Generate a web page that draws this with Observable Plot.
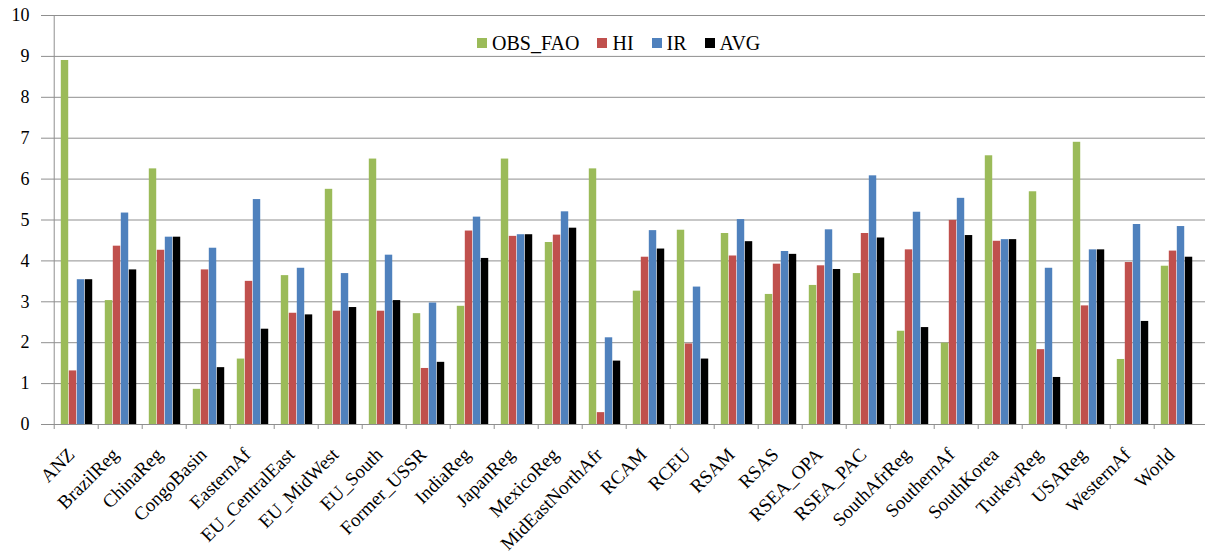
<!DOCTYPE html>
<html>
<head>
<meta charset="utf-8">
<script src="https://cdn.jsdelivr.net/npm/d3@7"></script>
<script src="https://cdn.jsdelivr.net/npm/@observablehq/plot@0.6"></script>
<style>
  html, body { margin: 0; padding: 0; background: #fff; }
  #wrap { position: relative; width: 1205px; height: 556px; font-family: "Liberation Serif", "Times New Roman", serif; }
  #wrap svg text { font-family: "Liberation Serif", "Times New Roman", serif; }
  #legend { position: absolute; top: 31px; left: 477px; display: flex; align-items: center; font-size: 20px; line-height: 24px; color: #000; font-family: "Liberation Serif", "Times New Roman", serif; }
  #legend .item { display: flex; align-items: center; margin-right: 18px; }
  #legend .sw { width: 10px; height: 10px; margin-right: 5px; }
</style>
</head>
<body>
<div id="wrap"><div id="legend"></div></div>
<script>
const regions = ["ANZ","BrazilReg","ChinaReg","CongoBasin","EasternAf","EU_CentralEast","EU_MidWest","EU_South","Former_USSR","IndiaReg","JapanReg","MexicoReg","MidEastNorthAfr","RCAM","RCEU","RSAM","RSAS","RSEA_OPA","RSEA_PAC","SouthAfrReg","SouthernAf","SouthKorea","TurkeyReg","USAReg","WesternAf","World"];
const obsFao = [8.90,3.03,6.25,0.86,1.60,3.64,5.75,6.49,2.71,2.89,6.49,4.45,6.25,3.26,4.75,4.67,3.18,3.40,3.69,2.28,1.99,6.57,5.69,6.90,1.59,3.87];
const hi     = [1.31,4.36,4.26,3.78,3.50,2.72,2.77,2.77,1.37,4.73,4.60,4.63,0.29,4.09,1.97,4.12,3.92,3.88,4.67,4.27,4.99,4.48,1.83,2.90,3.96,4.24];
const ir     = [3.54,5.17,4.58,4.31,5.50,3.82,3.69,4.14,2.97,5.07,4.64,5.20,2.12,4.74,3.36,5.01,4.23,4.76,6.08,5.19,5.53,4.52,3.82,4.27,4.89,4.84];
const avg    = [3.54,3.78,4.58,1.39,2.33,2.68,2.86,3.03,1.52,4.06,4.64,4.80,1.55,4.29,1.60,4.47,4.16,3.79,4.56,2.37,4.62,4.52,1.15,4.27,2.52,4.09];
const seriesNames = ["OBS_FAO","HI","IR","AVG"];
const seriesValues = [obsFao, hi, ir, avg];
const colors = ["#9BBB59","#C0504D","#4F81BD","#000000"];
const yTicks = [0,1,2,3,4,5,6,7,8,9,10];

const data = regions.flatMap((r, i) => seriesValues.map((arr, j) => ({region: r, series: seriesNames[j], value: arr[i]})));

const W = 1205, H = 556, mL = 46, mR = 0, mT = 15, mB = 132;
const step = (W - mL - mR) / regions.length;
const bw = 8, padL = 6.8;
const gray = "#8f8f8f";
const serif = "'Liberation Serif', 'Times New Roman', serif";

const barMarks = seriesNames.map((s, j) => Plot.barY(data.filter(d => d.series === s), {
  x: "region", y: "value", fill: "series",
  insetLeft: padL + j * bw, insetRight: step - padL - (j + 1) * bw
}));

const chart = Plot.plot({
  width: W, height: H,
  marginLeft: mL, marginRight: mR, marginTop: mT, marginBottom: mB,
  style: {fontFamily: serif, fontSize: "18px", color: "#000", background: "#fff", overflow: "visible"},
  x: {domain: regions, padding: 0, axis: null, label: null},
  y: {domain: [0, 10], axis: null, label: null},
  color: {domain: seriesNames, range: colors},
  marks: [
    Plot.gridY(yTicks, {stroke: gray, strokeOpacity: 1, strokeWidth: 1}),
    ...barMarks,
    Plot.ruleY([0], {stroke: gray}),
    Plot.ruleX([regions[0]], {x: d => d, y1: 0, y2: 10, dx: -step / 2, stroke: gray}),
    Plot.axisX({tickSize: 5, fill: "none", stroke: gray, strokeOpacity: 1, dx: -step / 2, label: null}),
    Plot.axisX({tickSize: 0, tickRotate: -45, tickPadding: 27, dx: -5, fill: "#000", stroke: "none", fontSize: 19, fontFamily: serif, label: null}),
    Plot.axisY(yTicks, {tickSize: 5, tickPadding: 12, stroke: gray, strokeOpacity: 1, fill: "#000", fontSize: 18, fontFamily: serif, label: null})
  ]
});
document.getElementById("wrap").prepend(chart);

const legend = document.getElementById("legend");
seriesNames.forEach((s, j) => {
  const it = document.createElement("div");
  it.className = "item";
  const sw = document.createElement("span");
  sw.className = "sw";
  sw.style.background = colors[j];
  const tx = document.createElement("span");
  tx.textContent = s;
  it.append(sw, tx);
  legend.append(it);
});
</script>
</body>
</html>
